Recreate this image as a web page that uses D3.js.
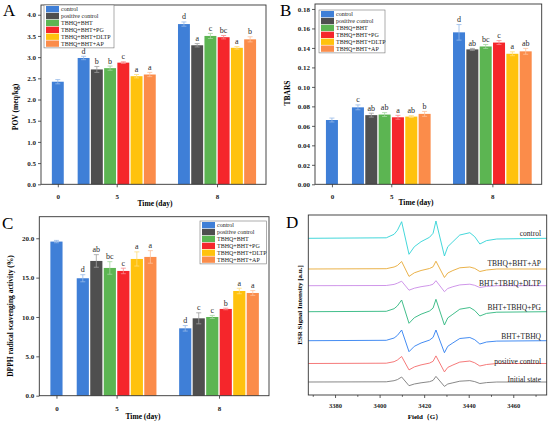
<!DOCTYPE html>
<html>
<head>
<meta charset="utf-8">
<script src="https://cdn.jsdelivr.net/npm/d3@7"></script>
<style>
  body { margin: 0; background: #fff; }
  svg { display: block; font-family: "Liberation Serif", "Times New Roman", serif; }
</style>
</head>
<body>
<script>
// ---------- data ----------
var days = ["0", "5", "8"];
var treatments = ["control", "positive control", "TBHQ+BHT", "TBHQ+BHT+PG", "TBHQ+BHT+DLTP", "TBHQ+BHT+AP"];
var barColors = ["#3f7fd7", "#4f4f4f", "#5cb552", "#f5262b", "#ffc20e", "#fb8c4a"];

// POV (meq/kg), one array per day
var povMean = [[2.42], [2.98, 2.71, 2.74, 2.87, 2.55, 2.59], [3.78, 3.28, 3.50, 3.47, 3.22, 3.42]];
var povErr  = [[0.05], [0.04, 0.07, 0.05, 0.02, 0.04, 0.05], [0.05, 0.04, 0.06, 0.04, 0.03, 0.06]];
var povSig  = [[""], ["d", "b", "b", "c", "a", "a"], ["d", "a", "c", "bc", "a", "b"]];
var povTicks = ["0.0", "0.5", "1.0", "1.5", "2.0", "2.5", "3.0", "3.5", "4.0"];

// TBARS
var tbaMean = [[0.066], [0.079, 0.071, 0.0716, 0.0688, 0.0695, 0.0723], [0.156, 0.1385, 0.1415, 0.1455, 0.134, 0.1365]];
var tbaErr  = [[0.002], [0.0025, 0.002, 0.002, 0.002, 0.001, 0.0025], [0.008, 0.001, 0.002, 0.002, 0.002, 0.003]];
var tbaSig  = [[""], ["c", "ab", "ab", "a", "ab", "b"], ["d", "ab", "bc", "c", "a", "ab"]];
var tbaTicks = ["0.00", "0.02", "0.04", "0.06", "0.08", "0.10", "0.12", "0.14", "0.16", "0.18"];

// DPPH radical scavenging activity (%)
var dppMean = [[19.58], [14.92, 17.12, 16.23, 15.85, 17.37, 17.63], [8.56, 9.83, 10.0, 11.02, 13.3, 13.05]];
var dppErr  = [[0.15], [0.45, 0.8, 0.8, 0.35, 0.9, 0.8], [0.35, 0.7, 0.2, 0.1, 0.35, 0.3]];
var dppSig  = [[""], ["d", "ab", "bc", "c", "a", "a"], ["d", "c", "c", "b", "a", "a"]];
var dppTicks = ["0.0", "5.0", "10.0", "15.0", "20.0"];

// ESR spectra (D): field points and intensity relative to each trace's baseline
var esrField = [3368, 3403, 3406.5, 3408, 3409.9, 3413.2, 3415.6, 3418.6, 3422.4, 3424, 3425.3, 3429.1, 3430.6, 3432.9, 3436, 3440.5, 3442.7, 3445, 3448, 3452.6, 3475];
var esrNames = ["control", "TBHQ+BHT+AP", "BHT+TBHQ+DLTP", "BHT+TBHQ+PG", "BHT+TBHQ", "positive control", "Initial state"];
var esrOffset = [156.7, 126, 109.3, 83.3, 54.3, 31.5, 13];
var esrControl  = [0, 0.5, 4, 8, 16.6, -16, -8.4, -3.4, 1, 5, 17.3, -17.7, -8.4, -3.4, 3.3, 5.6, 1.6, -5.7, -2.3, -0.7, 0];
var esrAP       = [0, 0.3, 2, 3.5, 7.5, -7.4, -3.8, -1.5, 0.5, 2.2, 7.8, -8.5, -4, -1.5, 1.2, 2, 0.6, -2.5, -1, 0, 0];
var esrDLTP     = [0, 0.2, 1.3, 2.5, 4.5, -4.5, -2.5, -1, 0.3, 1.5, 5, -6, -2.8, -1, 0.8, 1.5, 0.4, -1.8, -0.7, 0, 0];
var esrPG       = [0, 0.4, 3, 5.8, 11.7, -11.6, -6, -2.5, 0.7, 3.6, 12.4, -13.3, -6.2, -2.5, 2.5, 4.2, 1.2, -4.3, -1.7, -0.5, 0];
var esrBHT      = [0, 0.4, 2.7, 5.3, 10.7, -11, -5.6, -2.3, 0.6, 3.3, 10.7, -12, -5.6, -2.2, 2.2, 3.2, 1, -3.3, -1.3, -0.4, 0];
var esrPositive = [0, 0.3, 1.8, 3.5, 7, -6.4, -3.4, -1.4, 0.4, 2.2, 7.6, -8.4, -3.9, -1.5, 1.4, 2.5, 0.7, -2.5, -1, 0, 0];
var esrInitial  = [0, 0.2, 1.3, 2.4, 5, -3.7, -2, -0.8, 0.3, 1.6, 5.6, -4.4, -2, -0.8, 0.8, 1.4, 0.4, -1.5, -0.6, 0, 0];
var esrColors = ["#2fd3d6", "#e8a935", "#c98ae6", "#2db77e", "#2f7ff0", "#f46b6b", "#7a7a7a"];
var esrTicks = [3380, 3400, 3420, 3440, 3460];

// ---------- layout ----------
var groupCenter = [1.27, 5.72, 13.3];   // in bar-slot units, 17 slots across

var svg = d3.select("body").append("svg")
	.attr("width", 550)
	.attr("height", 423);

var axisColor = "#333";

function styleAxis(g) {
	g.select(".domain").remove();
	g.selectAll(".tick line").attr("stroke", axisColor).attr("stroke-width", 0.8);
	g.selectAll(".tick text")
		.attr("fill", "#222")
		.style("font-size", "7px")
		.style("font-weight", "bold")
		.style("font-family", "'Liberation Serif', serif");
}

function barPanel(opt) {
	var x = d3.scaleLinear().domain([0, 17]).range([opt.left, opt.right]);
	var y = d3.scaleLinear().domain([0, opt.yMax]).range([opt.bottom, opt.top]);
	var g = svg.append("g");

	// bars
	var rows = [];
	opt.mean.forEach(function(vals, gi) {
		vals.forEach(function(v, i) {
			var pos = vals.length === 1 ? groupCenter[gi] : groupCenter[gi] + (i - 2.5);
			rows.push({ pos: pos, v: v, e: opt.err[gi][i], s: opt.sig[gi][i], c: barColors[i] });
		});
	});

	g.selectAll("rect.bar").data(rows).enter().append("rect")
		.attr("class", "bar")
		.attr("x", function(d) { return x(d.pos - 0.45); })
		.attr("width", x(0.9) - x(0))
		.attr("y", function(d) { return y(d.v); })
		.attr("height", function(d) { return y(0) - y(d.v); })
		.attr("fill", function(d) { return d.c; });

	//error bars, lighter than the bar
	var eb = g.selectAll("g.err").data(rows).enter().append("g")
		.attr("class", "err")
		.attr("stroke", function(d) { return d3.interpolateRgb(d.c, "#fff")(0.45); })
		.attr("stroke-width", 0.8);
	eb.append("line")
		.attr("x1", function(d) { return x(d.pos); })
		.attr("x2", function(d) { return x(d.pos); })
		.attr("y1", function(d) { return y(d.v - d.e); })
		.attr("y2", function(d) { return y(d.v + d.e); });
	eb.append("line")
		.attr("x1", function(d) { return x(d.pos) - 2.5; })
		.attr("x2", function(d) { return x(d.pos) + 2.5; })
		.attr("y1", function(d) { return y(d.v + d.e); })
		.attr("y2", function(d) { return y(d.v + d.e); });
	eb.append("line")
		.attr("x1", function(d) { return x(d.pos) - 2.5; })
		.attr("x2", function(d) { return x(d.pos) + 2.5; })
		.attr("y1", function(d) { return y(d.v - d.e); })
		.attr("y2", function(d) { return y(d.v - d.e); });

	g.selectAll("text.sig").data(rows).enter().append("text")
		.attr("class", "sig")
		.attr("x", function(d) { return x(d.pos); })
		.attr("y", function(d) { return y(d.v + d.e) - 2.5; })
		.attr("text-anchor", "middle")
		.attr("fill", "#2a2a2a")
		.style("font-size", "8px")
		.text(function(d) { return d.s; });

	// axes
	var ya = g.append("g")
		.attr("transform", "translate(" + opt.left + ",0)")
		.call(d3.axisLeft(y)
			.tickValues(opt.ticks.map(Number))
			.tickFormat(function(d, i) { return opt.ticks[i]; })
			.tickSize(3).tickPadding(2));
	styleAxis(ya);

	var xa = g.append("g")
		.attr("transform", "translate(0," + opt.bottom + ")")
		.call(d3.axisBottom(x)
			.tickValues(groupCenter)
			.tickFormat(function(d, i) { return days[i]; })
			.tickSize(3).tickPadding(7));
	styleAxis(xa);

	g.append("rect")
		.attr("x", opt.left).attr("y", opt.top)
		.attr("width", opt.right - opt.left).attr("height", opt.bottom - opt.top)
		.attr("fill", "none").attr("stroke", axisColor).attr("stroke-width", 0.9);

	// titles
	g.append("text")
		.attr("x", opt.xTitle[0]).attr("y", opt.xTitle[1])
		.attr("text-anchor", "middle")
		.style("font-size", "7.5px").style("font-weight", "bold")
		.text("Time (day)");
	g.append("text")
		.attr("transform", "translate(" + opt.yTitle[0] + "," + opt.yTitle[1] + ") rotate(-90)")
		.attr("text-anchor", "middle")
		.style("font-size", "7.5px").style("font-weight", "bold")
		.text(opt.yLabel);
	g.append("text")
		.attr("x", opt.letter[0]).attr("y", opt.letter[1])
		.style("font-size", "17px")
		.text(opt.name);

	// legend
	var lg = g.append("g").attr("transform", "translate(" + opt.legend[0] + "," + opt.legend[1] + ")");
	var rowH = 6.9;
	lg.append("rect")
		.attr("x", 0).attr("y", 0)
		.attr("width", opt.legend[2]).attr("height", rowH * 6 + 1.5)
		.attr("fill", "#fff").attr("stroke", "#777").attr("stroke-width", 0.6);
	var li = lg.selectAll("g.li").data(treatments).enter().append("g")
		.attr("class", "li")
		.attr("transform", function(d, i) { return "translate(2," + (1 + i * rowH) + ")"; });
	li.append("rect")
		.attr("width", 13).attr("height", rowH - 0.6)
		.attr("fill", function(d, i) { return barColors[i]; });
	li.append("text")
		.attr("x", 15).attr("y", rowH - 1.6)
		.style("font-size", "6px")
		.attr("fill", "#222")
		.text(function(d) { return d; });
}

barPanel({
	name: "A", letter: [3, 16],
	left: 41, right: 266, top: 5, bottom: 184.3, yMax: 4.23,
	mean: povMean, err: povErr, sig: povSig, ticks: povTicks,
	yLabel: "POV (meq/kg)", yTitle: [18, 107], xTitle: [155, 205.5],
	legend: [44, 5, 70]
});

barPanel({
	name: "B", letter: [280, 16],
	left: 315, right: 541.7, top: 4, bottom: 184.3, yMax: 0.1851,
	mean: tbaMean, err: tbaErr, sig: tbaSig, ticks: tbaTicks,
	yLabel: "TBARS", yTitle: [290, 93], xTitle: [416, 205],
	legend: [319, 10, 66]
});

barPanel({
	name: "C", letter: [2, 229],
	left: 39.3, right: 269, top: 216.7, bottom: 395.7, yMax: 22.74,
	mean: dppMean, err: dppErr, sig: dppSig, ticks: dppTicks,
	yLabel: "DPPH radical scavenging activity (%)", yTitle: [13, 316], xTitle: [143, 418.5],
	legend: [200, 221, 66.7]
});

// ---------- D: ESR spectra ----------
(function() {
	var left = 308.3, right = 546.7, top = 215, bottom = 395;
	var x = d3.scaleLinear().domain([3368, 3475]).range([left, right]);
	var y = d3.scaleLinear().domain([0, 180]).range([bottom, top]);
	var g = svg.append("g");
	var traces = [esrControl, esrAP, esrDLTP, esrPG, esrBHT, esrPositive, esrInitial];

	var line = d3.line()
		.x(function(d) { return x(d[0]); })
		.y(function(d) { return y(d[1]); });

	traces.forEach(function(tr, k) {
		var pts = esrField.map(function(f, i) { return [f, esrOffset[k] + tr[i]]; });
		g.append("path")
			.attr("d", line(pts))
			.attr("fill", "none")
			.attr("stroke", esrColors[k])
			.attr("stroke-width", 0.9)
			.attr("stroke-linejoin", "round");
	});

	var labelY = [233.5, 263.5, 283.5, 307, 336, 361, 379];
	g.selectAll("text.lab").data(esrNames).enter().append("text")
		.attr("class", "lab")
		.attr("x", 541)
		.attr("y", function(d, i) { return labelY[i] + 2.5; })
		.attr("text-anchor", "end")
		.attr("fill", "#222")
		.style("font-size", "7.5px")
		.text(function(d) { return d; });

	var xa = g.append("g")
		.attr("transform", "translate(0," + bottom + ")")
		.call(d3.axisBottom(x).tickValues(esrTicks).tickFormat(d3.format("d")).tickSize(3).tickPadding(5));
	styleAxis(xa);
	xa.selectAll(".tick text").style("font-size", "6.5px");
	g.append("g")
		.attr("transform", "translate(0," + bottom + ")")
		.call(d3.axisBottom(x).tickValues([3370, 3390, 3410, 3430, 3450, 3470]).tickFormat("").tickSize(1.8))
		.call(styleAxis);

	g.append("rect")
		.attr("x", left).attr("y", top)
		.attr("width", right - left).attr("height", bottom - top)
		.attr("fill", "none").attr("stroke", axisColor).attr("stroke-width", 0.9);

	g.append("text")
		.attr("x", 425).attr("y", 419)
		.attr("text-anchor", "middle")
		.style("font-size", "7px").style("font-weight", "bold")
		.text("Field（G）");
	g.append("text")
		.attr("transform", "translate(302,305) rotate(-90)")
		.attr("text-anchor", "middle")
		.style("font-size", "7px").style("font-weight", "bold")
		.text("ESR Signal Intensity [a.u.]");
	g.append("text")
		.attr("x", 286).attr("y", 228)
		.style("font-size", "17px")
		.text("D");
})();
</script>
</body>
</html>
